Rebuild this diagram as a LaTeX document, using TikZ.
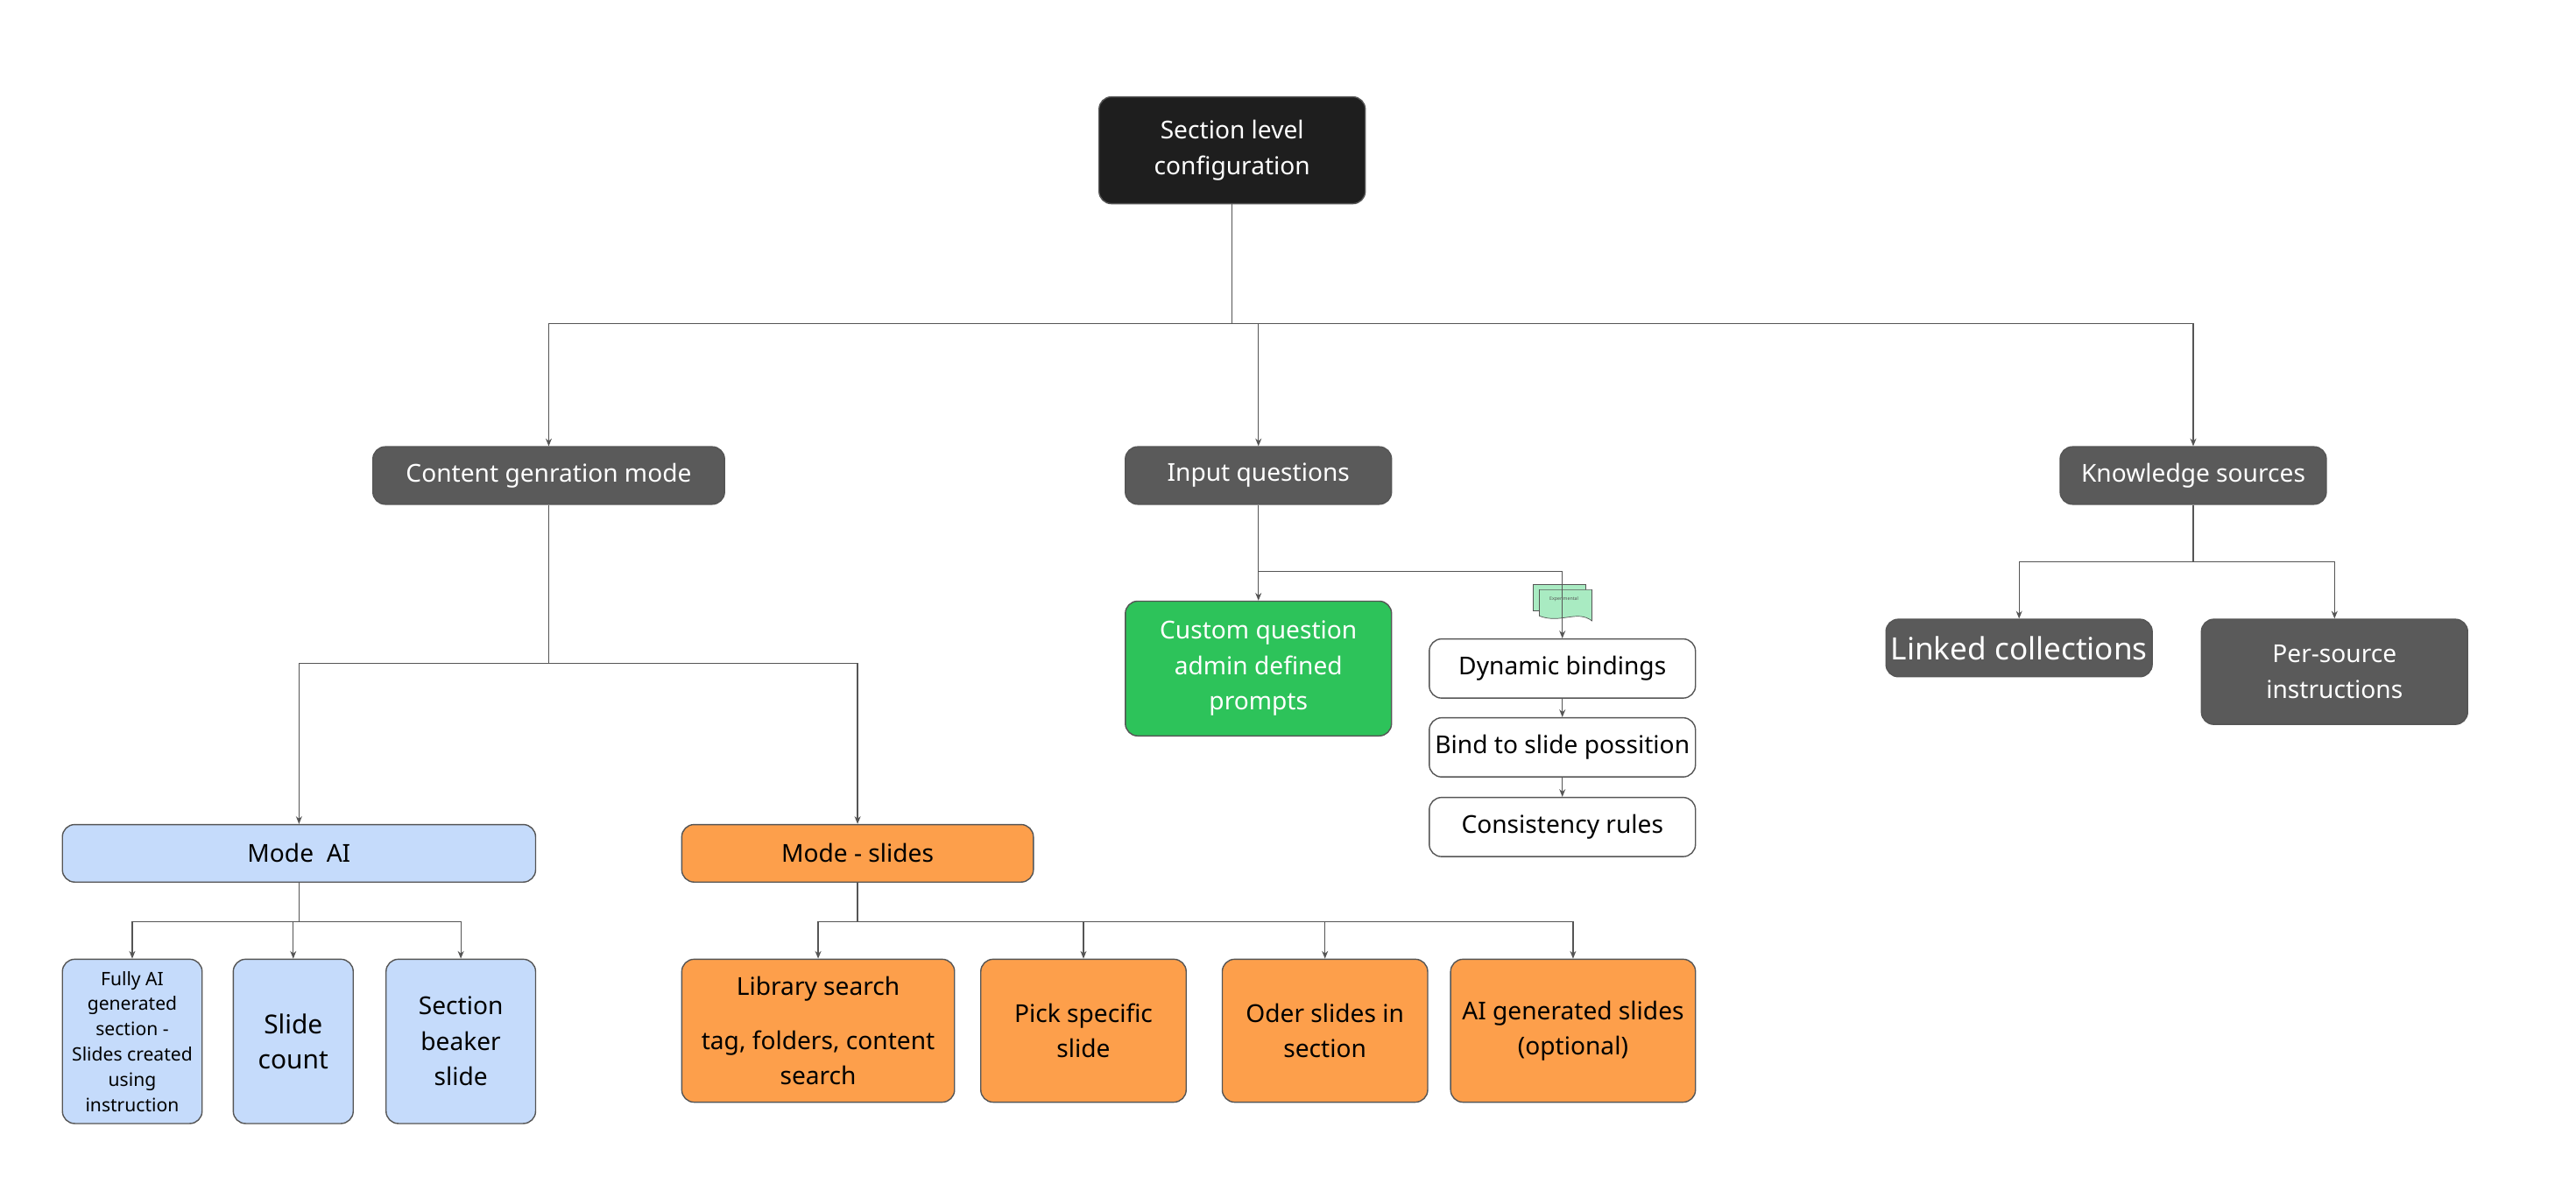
\documentclass[tikz,border=0pt]{standalone}
\usepackage{fontspec}
\setmainfont{Noto Sans}
\usetikzlibrary{arrows.meta,shapes.symbols}
\definecolor{rootc}{HTML}{1E1E1E}
\definecolor{grayc}{HTML}{5A5A5A}
\definecolor{greenc}{HTML}{2DC35A}
\definecolor{bluec}{HTML}{C5DBFB}
\definecolor{orangec}{HTML}{FD9F4B}
\definecolor{iconc}{HTML}{A9EBC2}
\definecolor{linec}{HTML}{555555}
\begin{document}
\begin{tikzpicture}[x=0.018756cm, y=-0.018756cm,
  box/.style={draw=linec, rounded corners=4pt, align=center, font=\fontsize{8}{11.5}\selectfont, inner sep=0pt},
  dark/.style={box, fill=grayc, text=white},
  blue/.style={box, fill=bluec},
  orange/.style={box, fill=orangec},
  white/.style={box, fill=white},
  link/.style={draw=linec, line width=0.35pt},
  arr/.style={link, -{Stealth[length=2.5pt,width=2pt]}}]
\useasboundingbox (0,0) rectangle (1568,725);
% top
\node[box, fill=rootc, text=white, minimum width=162*0.18756mm, minimum height=65*0.18756mm] (root) at (750,91.5) {Section level\\configuration};
\node[dark, minimum width=214*0.18756mm, minimum height=35*0.18756mm] (mode) at (334,289.5) {Content genration mode};
\node[dark, minimum width=162*0.18756mm, minimum height=35*0.18756mm] (input) at (766,289.5) {Input questions};
\node[dark, minimum width=162*0.18756mm, minimum height=35*0.18756mm] (know) at (1335,289.5) {Knowledge sources};
% input questions
\node[box, fill=greenc, text=white, minimum width=162*0.18756mm, minimum height=82*0.18756mm] (custom) at (766,407) {Custom question\\admin defined\\prompts};
\node[white, minimum width=162*0.18756mm, minimum height=36*0.18756mm] (dyn) at (951,407) {Dynamic bindings};
\node[white, minimum width=162*0.18756mm, minimum height=36*0.18756mm] (bind) at (951,455) {Bind to slide possition};
\node[white, minimum width=162*0.18756mm, minimum height=36*0.18756mm] (cons) at (951,503.5) {Consistency rules};
\draw[fill=iconc, draw=linec, line width=0.2pt] (933,356) rectangle (965,372);
\draw[fill=iconc, draw=linec, line width=0.2pt] (937,359) -- (969,359) -- (969,378) .. controls (960,371) and (950,380) .. (937,375) -- cycle;
\node[font=\fontsize{1.5}{2}\selectfont, text=linec] (icon) at (952,365) {Experimental};
% knowledge
\node[dark, font=\fontsize{10}{12}\selectfont, minimum width=162*0.18756mm, minimum height=35*0.18756mm] (linked) at (1229,394.5) {Linked collections};
\node[dark, minimum width=162*0.18756mm, minimum height=64*0.18756mm] (persrc) at (1421,409) {Per-source\\instructions};
% modes
\node[blue, minimum width=288*0.18756mm, minimum height=35*0.18756mm] (modeai) at (182,519.5) {Mode~~AI};
\node[orange, minimum width=214*0.18756mm, minimum height=35*0.18756mm] (modesl) at (522,519.5) {Mode - slides};
\node[blue, font=\fontsize{6}{8.2}\selectfont, minimum width=85*0.18756mm, minimum height=100*0.18756mm] (fully) at (80.5,634) {Fully AI\\generated\\section -\\Slides created\\using\\instruction};
\node[blue, font=\fontsize{8.5}{11.5}\selectfont, minimum width=73*0.18756mm, minimum height=100*0.18756mm] (count) at (178.5,634) {Slide\\count};
\node[blue, minimum width=91*0.18756mm, minimum height=100*0.18756mm] (beaker) at (280.5,634) {Section\\beaker\\slide};
\node[orange, minimum width=166*0.18756mm, minimum height=87*0.18756mm] (lib) at (498,627.5) {Library search\\[6pt]tag, folders, content\\search};
\node[orange, minimum width=125*0.18756mm, minimum height=87*0.18756mm] (pick) at (659.5,627.5) {Pick specific\\slide};
\node[orange, minimum width=125*0.18756mm, minimum height=87*0.18756mm] (oder) at (806.5,627.5) {Oder slides in\\section};
\node[orange, minimum width=149*0.18756mm, minimum height=87*0.18756mm] (aigen) at (957.5,627.5) {AI generated slides\\(optional)};
% connectors
\draw[link] (root.south) -- (750,197);
\draw[arr] (750,197) -| (mode.north);
\draw[arr] (750,197) -| (input.north);
\draw[arr] (750,197) -| (know.north);
\draw[link] (mode.south) -- (334,404);
\draw[arr] (334,404) -| (modeai.north);
\draw[arr] (334,404) -| (modesl.north);
\draw[arr] (input.south) -- (custom.north);
\draw[arr] (766,348) -| (dyn.north);
\draw[arr] (dyn) -- (bind);
\draw[arr] (bind) -- (cons);
\draw[link] (know.south) -- (1335,342);
\draw[arr] (1335,342) -| (linked.north);
\draw[arr] (1335,342) -| (persrc.north);
\draw[link] (modeai.south) -- (182,561);
\draw[arr] (182,561) -| (fully.north);
\draw[arr] (182,561) -| (count.north);
\draw[arr] (182,561) -| (beaker.north);
\draw[link] (modesl.south) -- (522,561);
\draw[arr] (522,561) -| (lib.north);
\draw[arr] (522,561) -| (pick.north);
\draw[arr] (522,561) -| (oder.north);
\draw[arr] (522,561) -| (aigen.north);
\end{tikzpicture}
\end{document}
